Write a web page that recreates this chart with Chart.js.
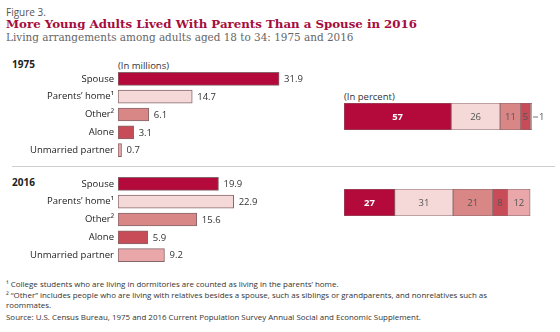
<!DOCTYPE html>
<html><head><meta charset="utf-8">
<script src="https://cdn.jsdelivr.net/npm/chart.js@4/dist/chart.umd.min.js"></script>
<style>
html,body{margin:0;padding:0;background:#fff;width:560px;height:332px;overflow:hidden;}
.t{position:absolute;white-space:nowrap;line-height:1;}
.c{position:absolute;}
#fig{left:6px;top:5px;font:10px "Open Sans",sans-serif;color:#555;}
#title{left:6px;top:17px;font:bold 11.8px "DejaVu Serif",serif;color:#a50d3d;}
#sub{left:6px;top:30px;font:11.6px "DejaVu Serif",serif;font-stretch:condensed;color:#666;}
.yr{font:bold 10px "Open Sans",sans-serif;color:#222;left:12px;}
.unit{font:9.5px "Open Sans",sans-serif;color:#333;}
#sep{position:absolute;left:12px;top:166px;width:543px;height:1px;background:#cfcfcf;}
#notes{left:6px;top:279px;font:7.95px "Open Sans",sans-serif;color:#333;line-height:10.6px;white-space:normal;width:554px;}
</style></head>
<body>
<div class="t" id="fig">Figure 3.</div>
<div class="t" id="title">More Young Adults Lived With Parents Than a Spouse in 2016</div>
<div class="t" id="sub">Living arrangements among adults aged 18 to 34: 1975 and 2016</div>
<div class="t yr" style="top:57px">1975</div>
<div class="t unit" style="left:118px;top:59px">(In millions)</div>
<div class="t unit" style="left:344px;top:90px">(In percent)</div>
<div id="sep"></div>
<div class="t yr" style="top:175px">2016</div>
<div class="c" style="left:0;top:70px"><canvas id="m1975" width="320" height="89"></canvas></div>
<div class="c" style="left:0;top:175px"><canvas id="m2016" width="320" height="89"></canvas></div>
<div class="c" style="left:344px;top:103px"><canvas id="p1975" width="210" height="27"></canvas></div>
<div class="c" style="left:344px;top:189px"><canvas id="p2016" width="210" height="27"></canvas></div>
<div class="t" id="notes">¹ College students who are living in dormitories are counted as living in the parents’ home.<br>² “Other” includes people who are living with relatives besides a spouse, such as siblings or grandparents, and nonrelatives such as<br>roommates.<br><span style="position:relative;top:1px">Source: U.S. Census Bureau, 1975 and 2016 Current Population Survey Annual Social and Economic Supplement.</span></div>
<script>
const categories = ['Spouse', 'Parents’ home¹', 'Other²', 'Alone', 'Unmarried partner'];
const millions1975 = [31.9, 14.7, 6.1, 3.1, 0.7];
const millions2016 = [19.9, 22.9, 15.6, 5.9, 9.2];
const percent1975 = [57, 26, 11, 5, 1];
const percent2016 = [27, 31, 21, 8, 12];
const colors = ['#b3093b', '#f5d9d9', '#d98686', '#c84c57', '#e9a7aa'];
const edge = '#86666a';
const labelFont = '9.5px "Open Sans", sans-serif';

const valuePlugin = {
  id: 'vals',
  afterDatasetsDraw(chart) {
    const ctx = chart.ctx;
    ctx.save();
    ctx.font = labelFont;
    ctx.textBaseline = 'middle';
    const kind = chart.options.plugins.vals.kind;
    chart.data.datasets.forEach((ds, di) => {
      const meta = chart.getDatasetMeta(di);
      meta.data.forEach((bar, i) => {
        const v = ds.data[i];
        if (kind === 'millions') {
          ctx.fillStyle = '#333';
          ctx.textAlign = 'left';
          ctx.fillText(v.toFixed(1), bar.x + 5, bar.y + 0.5);
        } else {
          const w = bar.x - bar.base;
          if (w < 4) {
            ctx.strokeStyle = '#777';
            ctx.lineWidth = 1;
            ctx.beginPath();
            ctx.moveTo(bar.x + 1, bar.y + 0.5);
            ctx.lineTo(bar.x + 6, bar.y + 0.5);
            ctx.stroke();
            ctx.fillStyle = '#555';
            ctx.textAlign = 'left';
            ctx.fillText(String(v), bar.x + 7, bar.y + 0.5);
          } else {
            ctx.font = di === 0 ? 'bold ' + labelFont : labelFont;
            ctx.fillStyle = di === 0 ? '#fff' : '#555';
            ctx.textAlign = 'center';
            ctx.fillText(String(v), (bar.x + bar.base) / 2, bar.y + 0.5);
          }
        }
      });
    });
    ctx.restore();
  }
};

function millionsChart(id, values) {
  return new Chart(document.getElementById(id), {
    type: 'bar',
    data: {
      labels: categories,
      datasets: [{
        data: values,
        backgroundColor: colors,
        borderColor: edge,
        borderWidth: 1,
        borderSkipped: false,
        barThickness: 13
      }]
    },
    options: {
      indexAxis: 'y',
      responsive: false,
      animation: false,
      events: [],
      layout: { padding: 0 },
      plugins: { legend: { display: false }, tooltip: { enabled: false }, vals: { kind: 'millions' } },
      scales: {
        x: { display: false, min: 0, max: 40 },
        y: {
          grid: { display: false, drawTicks: false },
          border: { display: false },
          ticks: { color: '#222', font: { family: 'Open Sans', size: 9.5 }, padding: 4 },
          afterFit(s) { s.width = 118; s.paddingTop = 0; s.paddingBottom = 0; }
        }
      }
    },
    plugins: [valuePlugin]
  });
}

function percentChart(id, values) {
  return new Chart(document.getElementById(id), {
    type: 'bar',
    data: {
      labels: [''],
      datasets: values.map((v, i) => ({
        label: categories[i],
        data: [v],
        backgroundColor: colors[i],
        borderColor: edge,
        borderWidth: 0.8,
        borderSkipped: false,
        barPercentage: 1,
        categoryPercentage: 1
      }))
    },
    options: {
      indexAxis: 'y',
      responsive: false,
      animation: false,
      events: [],
      layout: { padding: { right: 22 } },
      plugins: { legend: { display: false }, tooltip: { enabled: false }, vals: { kind: 'percent' } },
      scales: {
        x: { display: false, stacked: true, min: 0, max: 100 },
        y: { display: false, stacked: true }
      }
    },
    plugins: [valuePlugin]
  });
}

millionsChart('m1975', millions1975);
millionsChart('m2016', millions2016);
percentChart('p1975', percent1975);
percentChart('p2016', percent2016);
</script>
</body></html>
